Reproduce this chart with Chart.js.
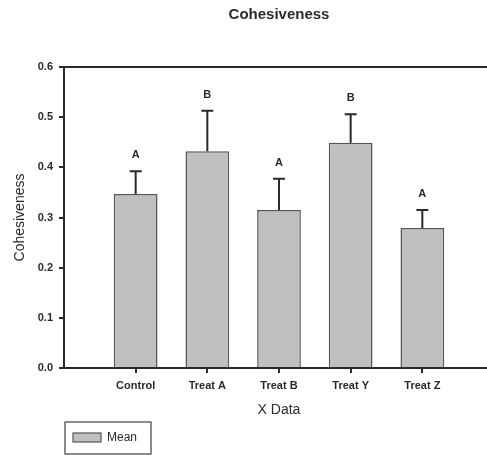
<!DOCTYPE html>
<html>
<head>
<meta charset="utf-8">
<script src="https://cdn.jsdelivr.net/npm/chart.js@4.4.1/dist/chart.umd.min.js"></script>
<style>
  html, body { margin: 0; padding: 0; background: #fff; overflow: hidden; }
  #wrap { width: 500px; height: 455px; }
</style>
</head>
<body>
<div id="wrap"><canvas id="barChart" width="500" height="455"></canvas></div>
<script>
// values
const categories = ['Control', 'Treat A', 'Treat B', 'Treat Y', 'Treat Z'];
const means = [0.347, 0.432, 0.315, 0.449, 0.279];
const errors = [0.045, 0.081, 0.062, 0.057, 0.036];
const letters = ['A', 'B', 'A', 'B', 'A'];
const yMin = 0, yMax = 0.6, yStep = 0.1;

const barFill = '#c0c0c0';
const barEdge = '#555555';
const ink = '#2a2a2a';
const fontFamily = '"Liberation Sans", Arial, sans-serif';

// empty slot on each side so the bars sit like the original
const labels = [''].concat(categories, ['']);
const barData = [null].concat(means, [null]);

const errorBars = {
  id: 'errorBars',
  afterDatasetsDraw(chart) {
    const ctx = chart.ctx;
    const y = chart.scales.y;
    const meta = chart.getDatasetMeta(0);
    ctx.save();
    ctx.strokeStyle = ink;
    ctx.fillStyle = ink;
    ctx.lineWidth = 2;
    ctx.font = 'bold 11px ' + fontFamily;
    ctx.textAlign = 'center';
    ctx.textBaseline = 'middle';
    means.forEach((m, i) => {
      const el = meta.data[i + 1];
      const top = y.getPixelForValue(m + errors[i]);
      ctx.beginPath();
      ctx.moveTo(el.x, el.y);
      ctx.lineTo(el.x, top);
      ctx.moveTo(el.x - 6, top);
      ctx.lineTo(el.x + 6, top);
      ctx.stroke();
      ctx.fillText(letters[i], el.x, top - 16);
    });
    ctx.restore();
  }
};

const frameAndLegend = {
  id: 'frameAndLegend',
  afterDraw(chart) {
    const ctx = chart.ctx;
    const a = chart.chartArea;
    ctx.save();
    // top frame line
    ctx.strokeStyle = ink;
    ctx.lineWidth = 2;
    ctx.beginPath();
    ctx.moveTo(a.left, a.top);
    ctx.lineTo(a.right, a.top);
    ctx.lineTo(a.right, a.bottom);
    ctx.stroke();

    // legend box
    const ds = chart.data.datasets[0];
    ctx.strokeStyle = '#666';
    ctx.lineWidth = 1.5;
    ctx.strokeRect(65, 422, 86, 32);
    ctx.fillStyle = ds.backgroundColor;
    ctx.fillRect(73, 433, 28, 9);
    ctx.strokeStyle = ds.borderColor;
    ctx.lineWidth = 1.2;
    ctx.strokeRect(73, 433, 28, 9);
    ctx.fillStyle = ink;
    ctx.font = '12px ' + fontFamily;
    ctx.textAlign = 'left';
    ctx.textBaseline = 'middle';
    ctx.fillText(ds.label, 107, 438);
    ctx.restore();
  }
};

const ctx = document.getElementById('barChart').getContext('2d');
new Chart(ctx, {
  type: 'bar',
  data: {
    labels: labels,
    datasets: [{
      label: 'Mean',
      data: barData,
      backgroundColor: barFill,
      borderColor: barEdge,
      borderWidth: 1.5,
      categoryPercentage: 1,
      barPercentage: 0.61
    }]
  },
  options: {
    responsive: false,
    animation: false,
    devicePixelRatio: 1,
    layout: { padding: { left: 0, top: 0, right: 4, bottom: 35 } },
    plugins: {
      legend: { display: false },
      tooltip: { enabled: false },
      title: {
        display: true,
        text: 'Cohesiveness',
        fullSize: false,
        color: ink,
        font: { family: fontFamily, size: 15, weight: 'bold' },
        padding: { top: 6, bottom: 43 }
      }
    },
    scales: {
      x: {
        type: 'category',
        offset: false,
        afterFit(scale) { scale.height = 52; },
        grid: {
          offset: false,
          drawOnChartArea: false,
          tickLength: 5,
          lineWidth: 2,
          color: (c) => (c.index === 0 || c.index === labels.length - 1) ? 'rgba(0,0,0,0)' : ink
        },
        border: { display: true, color: ink, width: 2 },
        ticks: {
          autoSkip: false,
          maxRotation: 0,
          padding: 6,
          color: ink,
          font: { family: fontFamily, size: 11, weight: 'bold' }
        },
        title: {
          display: true,
          text: 'X Data',
          color: ink,
          font: { family: fontFamily, size: 14 },
          padding: { top: 0, bottom: 1 }
        }
      },
      y: {
        min: yMin,
        max: yMax,
        afterFit(scale) { scale.width = 64; },
        grid: { drawOnChartArea: false, tickLength: 5, lineWidth: 2, color: ink },
        border: { display: true, color: ink, width: 2 },
        ticks: {
          stepSize: yStep,
          padding: 6,
          color: ink,
          font: { family: fontFamily, size: 11, weight: 'bold' },
          callback: (v) => v.toFixed(1)
        },
        title: {
          display: true,
          text: 'Cohesiveness',
          color: ink,
          font: { family: fontFamily, size: 14 },
          padding: { top: 12, bottom: 0 }
        }
      }
    }
  },
  plugins: [errorBars, frameAndLegend]
});
</script>
</body>
</html>
